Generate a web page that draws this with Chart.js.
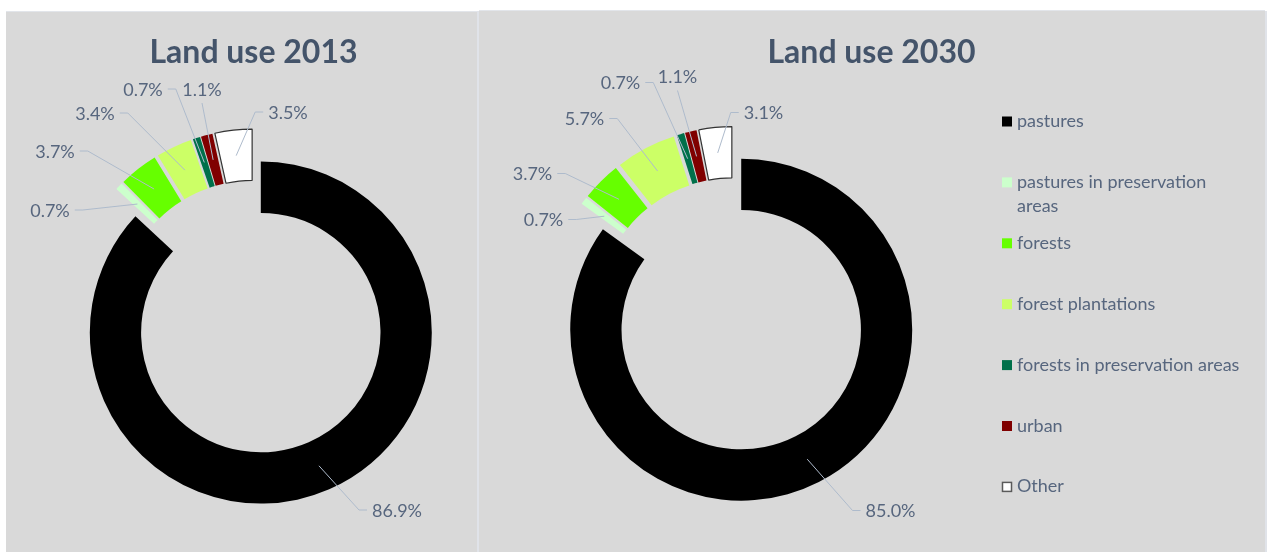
<!DOCTYPE html>
<html>
<head>
<meta charset="utf-8">
<title>Land use 2013 / 2030</title>
<script src="https://cdn.jsdelivr.net/npm/chart.js@4.4.1/dist/chart.umd.min.js"></script>
<style>
  html, body { margin: 0; padding: 0; background: #fff; }
  body { width: 1267px; height: 552px; position: relative; overflow: hidden; }
  .panel { position: absolute; background: #d9d9d9; box-shadow: 0 -1px 0 #e2e5ea; }
  #p2013 { left: 6px; top: 12px; width: 471px; height: 540px; }
  #p2030 { left: 479px; top: 11px; width: 786px; height: 541px; }
  .strip { position: absolute; background: #e0e3e9; }
  canvas { position: absolute; left: 0; top: 0; }
</style>
</head>
<body>
<div class="strip" style="left:477px;top:11px;width:2px;height:541px"></div>
<div class="strip" style="left:1265px;top:11px;width:2px;height:541px"></div>
<div class="panel" id="p2013"><canvas id="c2013" width="471" height="540"></canvas></div>
<div class="panel" id="p2030"><canvas id="c2030" width="786" height="541"></canvas></div>
<script>
const categories = ['pastures', ['pastures in preservation', 'areas'], 'forests', 'forest plantations',
  'forests in preservation areas', 'urban', 'Other'];
const share2013 = [86.9, 0.7, 3.7, 3.4, 0.7, 1.1, 3.5];
const share2030 = [85.0, 0.7, 3.7, 5.7, 0.7, 1.1, 3.1];
const sliceColors = ['#000000', '#ccffcc', '#66ff00', '#ccff66', '#00704a', '#800000', '#ffffff'];

// label centres, relative to the ring centre
const labelSpots2013 = [[143, 193], [-204, -107], [-199, -166], [-159, -204], [-111, -228], [-52, -228], [34, -205]];
const labelSpots2030 = [[157, 196], [-190, -95], [-201, -141], [-149, -196], [-113, -232], [-56, -238], [30, -202]];

const TEXT = '#57667e';
const TITLE = '#44546a';
const LEADER = '#aebbcc';
const FONT = 'Lato, "Open Sans", sans-serif';

// push every slice out from the centre along its middle angle
const explodeSlices = {
  id: 'explodeSlices',
  afterDatasetUpdate(chart, args, opts) {
    const d = opts.distance || 0;
    args.meta.data.forEach(arc => {
      const mid = (arc.startAngle + arc.endAngle) / 2;
      arc.x += Math.cos(mid) * d;
      arc.y += Math.sin(mid) * d;
    });
  }
};

// percentage labels with leader lines
const sliceLabels = {
  id: 'sliceLabels',
  afterDatasetsDraw(chart, args, opts) {
    const { ctx, chartArea } = chart;
    const cx = (chartArea.left + chartArea.right) / 2;
    const cy = (chartArea.top + chartArea.bottom) / 2;
    const values = chart.data.datasets[0].data;
    const arcs = chart.getDatasetMeta(0).data;
    ctx.save();
    ctx.font = '18px ' + FONT;
    arcs.forEach((arc, i) => {
      const mid = (arc.startAngle + arc.endAngle) / 2;
      const r = (arc.innerRadius + arc.outerRadius) / 2;
      const ax = arc.x + Math.cos(mid) * r;
      const ay = arc.y + Math.sin(mid) * r;
      const text = values[i].toFixed(1) + '%';
      const w = ctx.measureText(text).width;
      const lx = cx + opts.spots[i][0];
      const ly = cy + opts.spots[i][1];
      const left = lx - w / 2, right = lx + w / 2;

      ctx.strokeStyle = LEADER;
      ctx.lineWidth = 1;
      ctx.beginPath();
      if (ax < left - 6) {
        ctx.moveTo(left - 5, ly);
        ctx.lineTo(left - 13, ly);
      } else if (ax > right + 6) {
        ctx.moveTo(right + 5, ly);
        ctx.lineTo(right + 13, ly);
      } else {
        ctx.moveTo(lx, ay > ly ? ly + 14 : ly - 14);
      }
      ctx.lineTo(ax, ay);
      ctx.stroke();

      ctx.fillStyle = TEXT;
      ctx.textAlign = 'center';
      ctx.textBaseline = 'alphabetic';
      ctx.fillText(text, lx, ly + 6.5);
    });
    ctx.restore();
  }
};

// title and (optionally) the legend column
const panelText = {
  id: 'panelText',
  afterDraw(chart, args, opts) {
    const { ctx } = chart;
    ctx.save();
    ctx.font = 'bold 32px ' + FONT;
    ctx.fillStyle = TITLE;
    ctx.textAlign = 'center';
    ctx.textBaseline = 'alphabetic';
    ctx.fillText(opts.title, opts.titleX, opts.titleY);

    if (opts.legend) {
      const ds = chart.data.datasets[0];
      const { x, y, step } = opts.legend;
      ctx.font = '18px ' + FONT;
      ctx.textAlign = 'left';
      chart.data.labels.forEach((label, i) => {
        const yc = y + i * step;
        ctx.fillStyle = ds.backgroundColor[i];
        ctx.fillRect(x, yc - 5, 10, 10);
        if (ds.borderWidth[i] > 0) {
          ctx.strokeStyle = '#5a5a5a';
          ctx.lineWidth = 1.5;
          ctx.strokeRect(x + 0.5, yc - 4.5, 9, 9);
        }
        ctx.fillStyle = TEXT;
        [].concat(label).forEach((line, k) => {
          ctx.fillText(line, x + 15, yc + 5.5 + k * 24);
        });
      });
    }
    ctx.restore();
  }
};

function makeDonut(canvasId, values, spots, padding, textOpts) {
  return new Chart(document.getElementById(canvasId), {
    type: 'doughnut',
    data: {
      labels: categories,
      datasets: [{
        data: values,
        backgroundColor: sliceColors,
        borderColor: sliceColors.map((c, i) => i === sliceColors.length - 1 ? '#333333' : c),
        borderWidth: sliceColors.map((c, i) => i === sliceColors.length - 1 ? 1.2 : 0),
        clip: false
      }]
    },
    options: {
      responsive: false,
      animation: false,
      radius: 171,
      cutout: '70%',
      layout: { padding: padding },
      plugins: {
        legend: { display: false },
        tooltip: { enabled: false },
        explodeSlices: { distance: 17 },
        sliceLabels: { spots: spots },
        panelText: textOpts
      }
    },
    plugins: [explodeSlices, sliceLabels, panelText]
  });
}

makeDonut('c2013', share2013, labelSpots2013,
  { left: 25, right: 0, top: 70, bottom: 0 },
  { title: 'Land use 2013', titleX: 247.5, titleY: 50.5 },
);

makeDonut('c2030', share2030, labelSpots2030,
  { left: 0, right: 277, top: 66, bottom: 0 },
  { title: 'Land use 2030', titleX: 392.5, titleY: 51.5,
    legend: { x: 523, y: 110.5, step: 60.9 } });
</script>
</body>
</html>
